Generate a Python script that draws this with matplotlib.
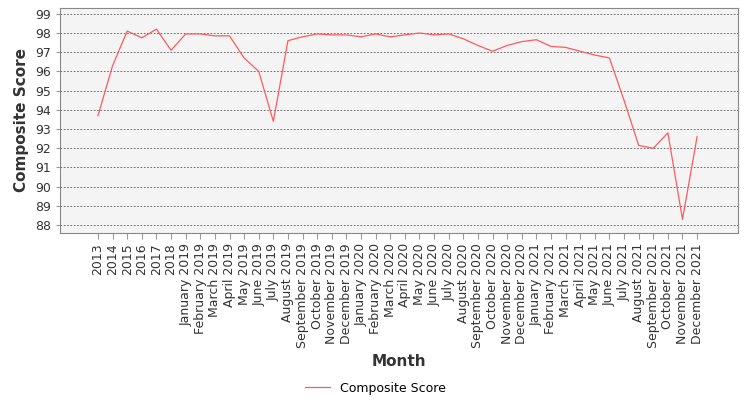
import matplotlib
matplotlib.use("Agg")
import matplotlib.pyplot as plt

months = ["January", "February", "March", "April", "May", "June", "July",
          "August", "September", "October", "November", "December"]
categories = ["2013", "2014", "2015", "2016", "2017", "2018"] + \
    [f"{m} {y}" for y in (2019, 2020, 2021) for m in months]
scores = [93.7, 96.3, 98.1, 97.75, 98.2, 97.1,
          97.95, 97.95, 97.85, 97.85, 96.7, 96.0, 93.4, 97.6, 97.8, 97.95, 97.9, 97.9,
          97.8, 97.95, 97.8, 97.9, 98.0, 97.9, 97.95, 97.7, 97.35, 97.05, 97.35, 97.55,
          97.65, 97.3, 97.25, 97.05, 96.85, 96.7, 94.5, 92.15, 92.0, 92.8, 88.3, 92.6]

fig = plt.figure(figsize=(7.5, 4.0), dpi=100)
ax = fig.add_axes([0.08, 0.418, 0.904, 0.562])
ax.set_facecolor("#f4f4f4")
x = list(range(len(categories)))
ax.plot(x, scores, color="#ff5a5f", lw=0.9, label="Composite Score")
ax.set_xlim(-2.6, len(categories) + 1.8)
ax.set_ylim(87.6, 99.3)
ax.set_yticks(range(88, 100))
ax.set_xticks(x)
ax.set_xticklabels(categories, rotation=90, fontsize=9, color="#333333")
ax.tick_params(axis="y", labelsize=9, labelcolor="#333333", length=3, color="#999999")
ax.tick_params(axis="x", length=4, color="#999999")
ax.grid(axis="y", color="#555555", ls=(0, (2, 2)), lw=0.6)
for s in ax.spines.values():
    s.set_color("#888888")
ax.set_ylabel("Composite Score", fontsize=11, color="#333333", fontweight="bold")
ax.set_xlabel("Month", fontsize=11, color="#333333", fontweight="bold")
fig.legend(loc="lower center", bbox_to_anchor=(0.5, -0.015), frameon=False, fontsize=9)
fig.savefig("out.png", dpi=100)
